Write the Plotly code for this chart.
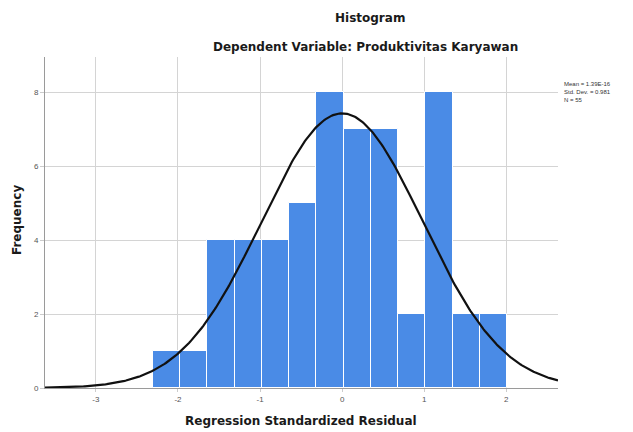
import numpy as np
import plotly.graph_objects as go

# Data
bin_start = -2.307
bin_width = 0.332
counts = [1, 1, 4, 4, 4, 5, 8, 7, 7, 2, 8, 2, 2]
mean_val = 0.0
std_val = 0.981
n_val = 55
x_tick_vals = [-3, -2, -1, 0, 1, 2]
y_tick_vals = [0, 2, 4, 6, 8]
stats_lines = ["Mean = 1.39E-16", "Std. Dev. = 0.981", "N = 55"]

centers = [bin_start + bin_width * (i + 0.5) for i in range(len(counts))]

x_range = [-3.62, 2.63]
xc = np.linspace(x_range[0], x_range[1], 400)
yc = n_val * bin_width / (std_val * np.sqrt(2 * np.pi)) * np.exp(-0.5 * ((xc - mean_val) / std_val) ** 2)

# page body adds an 8px offset; target plot box in screenshot: x 45..558, y 57..388
OFF = 8
W, H = 633, 432
ML = 45 - OFF
MT = 57 - OFF
MR = W - (558 - OFF)
MB = H - (388 - OFF)
pw = W - ML - MR
ph = H - MT - MB


def px_x(x):
    return (x - OFF - ML) / pw


def px_y(y):
    return (H - MB - (y - OFF)) / ph


title_font = dict(family="DejaVu Sans", size=12, color="#1a1a1a")


def centered(text, x, y, **kw):
    d = dict(text=text, x=px_x(x), y=px_y(y), xref="paper", yref="paper",
             xanchor="center", yanchor="middle", showarrow=False, font=title_font)
    d.update(kw)
    return d


fig = go.Figure()
fig.add_trace(go.Bar(
    x=centers, y=counts, width=[bin_width] * len(counts),
    marker=dict(color="#4a8be6", line=dict(color="white", width=1)),
    showlegend=False, hoverinfo="skip"))
fig.add_trace(go.Scatter(
    x=xc, y=yc, mode="lines", line=dict(color="#111111", width=2.2),
    showlegend=False, hoverinfo="skip"))

fig.update_layout(
    width=W, height=H,
    margin=dict(l=ML, r=MR, t=MT, b=MB),
    paper_bgcolor="white", plot_bgcolor="white",
    font=dict(family="Liberation Sans, Arial", color="#222222"),
    bargap=0,
    xaxis=dict(range=x_range, tickvals=x_tick_vals, ticktext=[str(v) for v in x_tick_vals],
               automargin=False,
               showgrid=True, gridcolor="#d4d4d4", gridwidth=1,
               zeroline=False, showline=True, linecolor="#9a9a9a", linewidth=1,
               ticks="outside", ticklen=3, tickcolor="#cccccc",
               tickfont=dict(size=8, color="#555555")),
    yaxis=dict(range=[0, 8.95], tickvals=y_tick_vals,
               automargin=False,
               showgrid=True, gridcolor="#d4d4d4", gridwidth=1,
               zeroline=False, showline=True, linecolor="#9a9a9a", linewidth=1,
               ticks="outside", ticklen=4, tickcolor="#cccccc",
               tickfont=dict(size=8, color="#555555")),
    annotations=[
        centered("<b>Histogram</b>", 370, 18),
        centered("<b>Dependent Variable: Produktivitas Karyawan</b>", 365, 47),
        centered("<b>Regression Standardized Residual</b>", 301, 421),
        centered("<b>Frequency</b>", 17, 220, textangle=-90),
        dict(text="<br>".join(stats_lines), x=px_x(562), y=px_y(79),
             xref="paper", yref="paper",
             showarrow=False, align="left", xanchor="left", yanchor="top",
             font=dict(size=6, color="#333333")),
    ],
)

fig.write_html("out.html")
